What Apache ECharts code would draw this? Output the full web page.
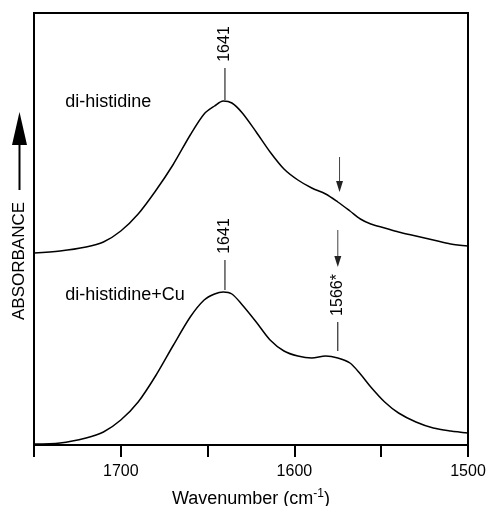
<!DOCTYPE html>
<html>
<head>
<meta charset="utf-8">
<script src="https://cdn.jsdelivr.net/npm/echarts@6/dist/echarts.min.js"></script>
<style>
html, body { margin: 0; padding: 0; background: #fff; }
#main { width: 489px; height: 506px; }
</style>
</head>
<body>
<div id="main"></div>
<script>
// wavenumber (cm-1), absorbance in arbitrary offset units
var wavenumbers = [1750, 1735, 1720, 1710, 1700, 1690, 1680, 1670, 1660, 1652, 1646, 1641, 1636, 1630, 1622, 1614, 1606, 1598, 1590, 1582, 1575, 1568, 1562, 1556, 1548, 1540, 1530, 1520, 1510, 1500];
var diHistidine = [192, 194, 198, 203, 214, 231, 254, 280, 310, 331, 339, 344, 342, 332, 313, 293, 276, 265, 257, 251, 243, 234, 226, 221, 217, 213, 209, 205, 201, 199];
var diHistidineCu = [1, 2, 7, 13, 25, 43, 69, 99, 128, 145, 151, 153, 151, 140, 123, 105, 94, 89, 87, 89, 87, 82, 71, 58, 43, 32, 23, 17, 14, 12];
var shownTicks = [1700, 1600, 1500];

// peak marks: [wavenumber, line top, line bottom, label centre, label]
var peakMarks = [
  [1640, 377, 345, 401, '1641'],
  [1640, 185, 155, 209, '1641'],
  [1575, 123, 94, 150, '1566*']
];
// arrows: [wavenumber, from, to]
var arrows = [
  [1574, 288, 253],
  [1575, 215, 178]
];
// sample names: [wavenumber, value, text]
var sampleNames = [
  [1732, 343, 'di-histidine'],
  [1732, 150, 'di-histidine+Cu']
];

var font = '"Liberation Sans", Arial, sans-serif';

function pairs(ys) {
  return wavenumbers.map(function (w, i) { return [w, ys[i]]; });
}

var chart = echarts.init(document.getElementById('main'));
chart.setOption({
  animation: false,
  grid: {
    left: 34, right: 21, top: 13, bottom: 61,
    containLabel: false, outerBoundsMode: 'none',
    show: true, borderColor: '#000', borderWidth: 2
  },
  xAxis: {
    type: 'value',
    inverse: true,
    min: 1500,
    max: 1750,
    interval: 50,
    splitLine: { show: false },
    axisLine: { lineStyle: { color: '#000', width: 2 } },
    axisTick: { inside: false, length: 12, lineStyle: { color: '#000', width: 2 } },
    axisLabel: {
      margin: 19,
      color: '#000',
      fontSize: 16,
      fontFamily: font,
      formatter: function (v) { return shownTicks.indexOf(v) >= 0 ? String(v) : ''; }
    },
    name: '{a|Wavenumber (cm}{b|-1}{a|)}',
    nameLocation: 'middle',
    nameGap: 43,
    nameTextStyle: {
      color: '#000',
      fontFamily: font,
      rich: {
        a: { fontSize: 18, color: '#000', fontFamily: font },
        b: { fontSize: 12, color: '#000', fontFamily: font, padding: [0, 0, 10, 0] }
      }
    }
  },
  yAxis: { type: 'value', min: 0, max: 432, show: false },
  series: [
    { type: 'line', data: pairs(diHistidine), smooth: 0.3, showSymbol: false, lineStyle: { color: '#000', width: 1.5 } },
    { type: 'line', data: pairs(diHistidineCu), smooth: 0.3, showSymbol: false, lineStyle: { color: '#000', width: 1.5 } }
  ]
});

function px(w, v) { return chart.convertToPixel({ gridIndex: 0 }, [w, v]); }

var g = [];
peakMarks.forEach(function (m) {
  var a = px(m[0], m[1]), b = px(m[0], m[2]), c = px(m[0], m[3]);
  g.push({ type: 'line', shape: { x1: a[0], y1: a[1], x2: b[0], y2: b[1] }, style: { stroke: '#000', lineWidth: 1 } });
  g.push({ type: 'text', x: c[0], y: c[1], rotation: Math.PI / 2,
    style: { text: m[4], fill: '#000', font: '16px ' + font, align: 'center', verticalAlign: 'middle' } });
});
arrows.forEach(function (m) {
  var a = px(m[0], m[1]), b = px(m[0], m[2]);
  g.push({ type: 'line', shape: { x1: a[0], y1: a[1], x2: b[0], y2: b[1] - 8 }, style: { stroke: '#444', lineWidth: 1 } });
  g.push({ type: 'polygon', shape: { points: [[b[0] - 3.5, b[1] - 11], [b[0] + 3.5, b[1] - 11], [b[0], b[1]]] }, style: { fill: '#222' } });
});
sampleNames.forEach(function (m) {
  var a = px(m[0], m[1]);
  g.push({ type: 'text', x: a[0], y: a[1],
    style: { text: m[2], fill: '#000', font: '18px ' + font, align: 'left', verticalAlign: 'middle' } });
});
// vertical axis caption with arrow
g.push({ type: 'text', x: 19, y: 261, rotation: Math.PI / 2,
  style: { text: 'ABSORBANCE', fill: '#000', font: '17px ' + font, align: 'center', verticalAlign: 'middle' } });
g.push({ type: 'line', shape: { x1: 19.5, y1: 190, x2: 19.5, y2: 140 }, style: { stroke: '#000', lineWidth: 2 } });
g.push({ type: 'polygon', shape: { points: [[12, 145], [27, 145], [19.5, 112]] }, style: { fill: '#000' } });

chart.setOption({ graphic: g });
</script>
</body>
</html>
